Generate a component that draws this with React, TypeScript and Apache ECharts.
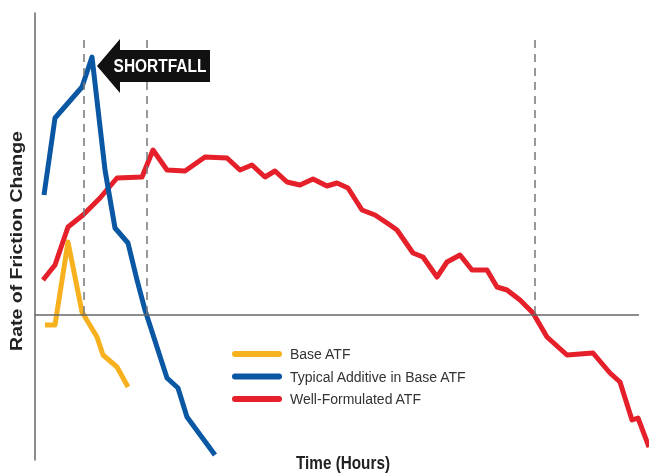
import React, { useEffect, useRef } from "react";
import * as echarts from "echarts";

// Time (hours, arbitrary units) and rate of friction change (arbitrary units)
const baseTime = [1.0, 2.0, 3.3, 4.7, 6.2, 6.8, 8.2, 9.3];
const baseRate = [-1.0, -1.0, 7.3, 0.3, -2.2, -4.0, -5.2, -7.2];

const addTime = [0.9, 2.0, 4.7, 5.7, 7.0, 8.0, 9.3, 10.2, 11.0, 13.2, 14.3, 15.2, 18.0];
const addRate = [12.0, 19.7, 22.8, 25.8, 14.5, 8.7, 7.2, 3.5, 0.5, -6.3, -7.3, -10.2, -14.0];

const wellTime = [
  0.8, 2.0, 3.3, 4.8, 6.5, 8.2, 10.7, 11.8, 13.2, 15.0, 17.0, 19.2, 20.5, 21.7, 23.0,
  24.0, 25.2, 26.5, 27.8, 29.2, 30.2, 31.3, 32.7, 34.0, 35.5, 36.2, 37.8, 38.8, 40.2,
  41.2, 42.5, 43.7, 45.2, 46.2, 47.2, 48.5, 49.8, 51.2, 53.2, 55.8, 57.5, 58.5, 59.7,
  60.3, 61.4,
];
const wellRate = [
  3.5, 5.0, 8.8, 10.0, 11.7, 13.7, 13.8, 16.5, 14.5, 14.4, 15.8, 15.7, 14.5, 15.0, 13.8,
  14.4, 13.3, 13.0, 13.6, 12.9, 13.2, 12.7, 10.5, 10.0, 9.0, 8.5, 6.2, 5.8, 3.8,
  5.3, 6.0, 4.5, 4.5, 2.8, 2.5, 1.5, 0.2, -2.2, -4.0, -3.8, -5.8, -6.7, -10.5,
  -10.3, -13.2,
];

const seriesNames = ["Base ATF", "Typical Additive in Base ATF", "Well-Formulated ATF"];
const markerTimes = [4.9, 11.2, 50.0];
const markerTop = 27.5;
const zeroLineEnd = 60.4;

const zip = (xs: number[], ys: number[]) => xs.map((x, i) => [x, ys[i]]);

const pill = "path://M3,0 H47 A3,3 0 0 1 47,6 H3 A3,3 0 0 1 3,0 Z";
const sans = '"Liberation Sans", Arial, Helvetica, sans-serif';

export default function App() {
  const ref = useRef<HTMLDivElement>(null);
  useEffect(() => {
    if (!ref.current) return;
    const chart = echarts.init(ref.current, null, { renderer: "svg" });
    const lineStyle = (color: string) => ({ color, width: 5, join: "round" as const, cap: "butt" as const });
    chart.setOption({
      animation: false,
      grid: { left: 35, right: 0, top: 13, bottom: 13 },
      xAxis: { type: "value", min: 0, max: 61.4, show: false },
      yAxis: {
        type: "value",
        min: -14.5,
        max: 30.2,
        axisLine: { show: true, lineStyle: { color: "#666", width: 1.5 } },
        axisTick: { show: false },
        axisLabel: { show: false },
        splitLine: { show: false },
      },
      legend: {
        data: seriesNames,
        orient: "vertical",
        left: 232,
        top: 345,
        padding: 0,
        itemWidth: 50,
        itemHeight: 6,
        itemGap: 4.5,
        icon: pill,
        textStyle: { fontSize: 14, lineHeight: 18, color: "#333", fontFamily: sans, padding: [0, 0, 0, 3] },
      },
      series: [
        {
          type: "line",
          name: "guides",
          data: [],
          z: 1,
          markLine: {
            silent: true,
            symbol: "none",
            label: { show: false },
            data: [
              ...markerTimes.map((t) => [
                { coord: [t, markerTop], lineStyle: { type: [8, 6], color: "#777", width: 1.5 } },
                { coord: [t, 0] },
              ]),
              [
                { coord: [0, 0], lineStyle: { type: "solid", color: "#666", width: 1.5 } },
                { coord: [zeroLineEnd, 0] },
              ],
            ],
          },
        },
        {
          type: "line",
          name: seriesNames[2],
          data: zip(wellTime, wellRate),
          showSymbol: false,
          color: "#E5202B",
          lineStyle: lineStyle("#E5202B"),
          z: 2,
        },
        {
          type: "line",
          name: seriesNames[0],
          data: zip(baseTime, baseRate),
          showSymbol: false,
          color: "#F7B11F",
          lineStyle: lineStyle("#F7B11F"),
          z: 3,
        },
        {
          type: "line",
          name: seriesNames[1],
          data: zip(addTime, addRate),
          showSymbol: false,
          color: "#0A57A4",
          lineStyle: lineStyle("#0A57A4"),
          z: 4,
        },
      ],
      graphic: [
        {
          type: "polygon",
          z: 10,
          shape: {
            points: [
              [97, 66],
              [120, 39],
              [120, 50],
              [210, 50],
              [210, 82],
              [120, 82],
              [120, 93],
            ],
          },
          style: { fill: "#111" },
        },
        {
          type: "text",
          z: 11,
          x: 160,
          y: 66,
          scaleX: 0.86,
          style: {
            text: "SHORTFALL",
            fill: "#fff",
            font: "bold 18px " + sans,
            align: "center",
            verticalAlign: "middle",
          },
        },
        {
          type: "text",
          z: 11,
          x: 343,
          y: 463,
          scaleX: 0.85,
          style: {
            text: "Time (Hours)",
            fill: "#222",
            font: "bold 18px " + sans,
            align: "center",
            verticalAlign: "middle",
          },
        },
        {
          type: "text",
          z: 11,
          x: 17,
          y: 241,
          rotation: Math.PI / 2,
          scaleX: 1.22,
          style: {
            text: "Rate of Friction Change",
            fill: "#222",
            font: "bold 16px " + sans,
            align: "center",
            verticalAlign: "middle",
          },
        },
      ],
    });
    return () => chart.dispose();
  }, []);
  return <div ref={ref} style={{ position: "fixed", left: 0, top: 0, width: 649, height: 473 }} />;
}
